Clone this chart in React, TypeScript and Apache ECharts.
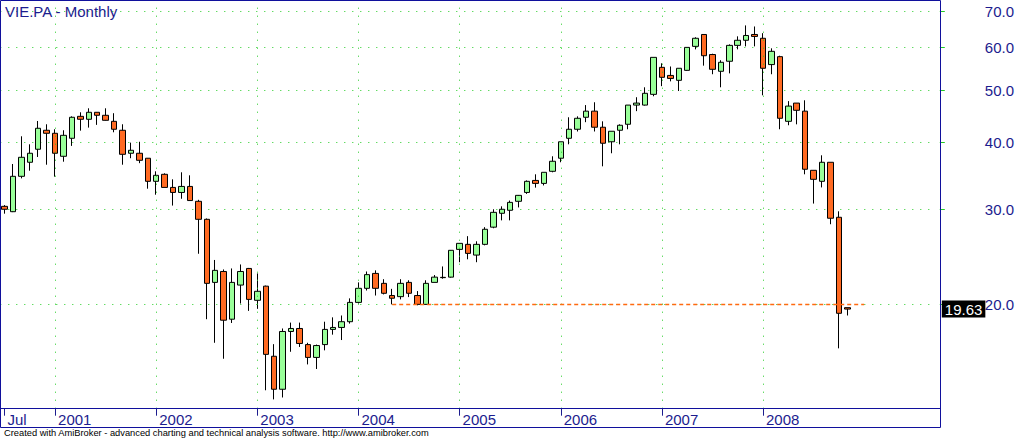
import React, { useEffect, useRef } from "react";
import * as echarts from "echarts";

// Monthly bars, Jul 2000 .. Nov 2008
const startYear = 2000;
const startMonth = 7;
const slotCount = 111; // visible month slots on the axis

const opens = [
  30.44, 29.75, 34.6, 36.74, 38.84, 42.12, 41.58, 37.69, 40.7, 44.7,
  44.14, 45.48, 44.9, 43.76, 42.12, 38.18, 38.18, 37.38, 33.87, 34.9,
  33.0, 32.3, 33.14, 31.1, 28.8, 22.0, 23.05, 18.8, 21.75, 23.35,
  20.38, 21.65, 16.05, 13.94, 17.84, 18.07, 16.87, 15.97, 16.87, 18.0,
  18.15, 18.6, 20.2, 21.45, 22.86, 21.91, 20.8, 20.7, 22.0, 20.8,
  20.03, 22.0, 22.48, 22.5, 25.33, 25.88, 24.72, 25.88, 27.85, 29.55,
  29.93, 31.1, 32.3, 34.0, 33.57, 35.35, 37.38, 40.7, 42.3, 44.52,
  45.7, 42.67, 40.1, 42.12, 43.21, 46.9, 46.9, 49.1, 55.1, 53.23,
  52.13, 54.4, 60.26, 63.4, 58.2, 54.18, 56.55, 60.52, 61.85, 63.4,
  62.38, 55.75, 57.67, 43.76, 47.3, 45.7, 35.5, 33.87, 36.74, 29.05,
  19.75,
];
const closes = [
  30.06, 34.6, 37.53, 38.18, 42.48, 41.58, 38.18, 41.22, 44.52, 44.14,
  45.48, 44.9, 43.95, 42.3, 38.01, 38.67, 37.05, 33.87, 34.75, 33.0,
  32.3, 33.14, 31.2, 28.8, 21.91, 23.16, 18.72, 22.0, 23.05, 20.46,
  21.18, 16.18, 13.94, 17.84, 18.07, 16.95, 15.97, 16.8, 18.0, 18.15,
  18.6, 20.2, 21.45, 22.74, 21.45, 21.0, 20.56, 21.91, 21.0, 20.03,
  21.91, 22.5, 22.45, 25.23, 25.99, 24.9, 25.88, 27.6, 29.67, 30.06,
  30.96, 31.9, 33.87, 33.57, 35.2, 36.9, 40.1, 42.3, 44.33, 45.7,
  42.67, 39.85, 41.94, 43.03, 46.9, 47.3, 49.32, 57.5, 52.8, 52.55,
  54.88, 60.0, 62.38, 57.9, 54.64, 56.3, 60.52, 61.85, 63.13, 62.87,
  54.88, 59.0, 44.33, 46.7, 45.87, 35.66, 34.16, 36.74, 28.93, 19.28,
  19.63,
];
const lows = [
  29.5, 29.7, 34.3, 35.44, 37.58, 36.36, 34.55, 36.83, 39.4, 42.05,
  42.6, 43.1, 43.9, 41.76, 36.36, 37.38, 36.6, 32.82, 31.99, 33.0,
  30.54, 31.44, 31.2, 24.86, 18.8, 17.0, 15.88, 18.5, 20.1, 19.48,
  19.65, 13.88, 13.35, 13.46, 16.36, 16.7, 15.5, 15.2, 16.46, 17.6,
  17.2, 18.45, 20.1, 21.25, 20.8, 20.9, 20.03, 20.46, 20.66, 19.95,
  20.0, 22.0, 22.35, 22.45, 23.98, 24.28, 23.98, 25.77, 27.72, 28.67,
  28.67, 30.3, 32.1, 32.97, 33.28, 35.2, 36.74, 39.67, 41.9, 43.6,
  41.9, 36.11, 38.18, 39.67, 42.3, 45.7, 46.8, 48.7, 50.85, 51.9,
  49.8, 54.3, 59.5, 55.5, 53.5, 50.6, 53.7, 59.5, 60.26, 60.26,
  48.9, 53.5, 42.3, 43.03, 43.2, 34.9, 30.8, 33.0, 28.2, 16.6,
  19.1,
];
const highs = [
  30.6, 36.47, 41.05, 39.67, 43.82, 43.21, 42.3, 42.12, 44.7, 45.48,
  46.26, 45.5, 46.26, 45.3, 43.21, 39.95, 40.1, 37.4, 35.35, 35.05,
  34.16, 35.2, 34.75, 31.3, 28.9, 24.21, 23.25, 23.35, 23.75, 23.4,
  22.86, 21.7, 16.9, 18.07, 18.53, 18.53, 17.0, 16.87, 18.6, 18.95,
  19.1, 20.55, 22.0, 23.05, 23.16, 22.3, 21.4, 22.3, 22.2, 21.2,
  22.2, 22.7, 23.55, 25.25, 26.0, 26.8, 26.22, 27.85, 30.06, 30.44,
  31.2, 31.95, 34.0, 34.9, 35.2, 37.69, 40.1, 44.52, 44.7, 46.9,
  47.47, 43.76, 41.95, 43.2, 46.9, 48.5, 50.6, 57.5, 56.06, 55.3,
  54.9, 60.0, 62.65, 63.4, 58.4, 56.8, 60.78, 62.9, 65.9, 65.6,
  63.75, 59.76, 57.9, 47.7, 47.3, 47.87, 35.5, 37.85, 36.74, 29.8,
  19.75,
];

const priceTicks = [20, 30, 40, 50, 60, 70];
const axisMinPrice = 12.83;
const axisMaxPrice = 73.14;
const supportLevel = 20.0;
const supportFrom = "2004-05";
const supportTo = "2009-01";
const titleText = "VIE.PA - Monthly";
const footerText =
  "Created with AmiBroker - advanced charting and technical analysis software. http://www.amibroker.com";

const NAVY = "#1c1c8e";
const FRAME = "#10109c";
const GRID_GREEN = "#22cc22";
const UP = "#99ff99";
const DOWN = "#ff6a22";
const FONT = "'Liberation Sans', Arial, sans-serif";

function buildCategories(): string[] {
  const out: string[] = [];
  for (let i = 0; i < slotCount; i++) {
    const m0 = startMonth - 1 + i;
    const y = startYear + Math.floor(m0 / 12);
    const m = (m0 % 12) + 1;
    out.push(`${y}-${m < 10 ? "0" + m : m}`);
  }
  return out;
}

export default function App() {
  const ref = useRef<HTMLDivElement>(null);
  useEffect(() => {
    if (!ref.current) return;
    const chart = echarts.init(ref.current, undefined, { renderer: "svg" });
    const categories = buildCategories();
    const isMarked = (i: number) =>
      i < opens.length && (i === 0 || categories[i].endsWith("-01"));
    const yearCats = categories.filter((c, i) => i > 0 && i < opens.length && c.endsWith("-01"));
    const candles = opens.map((o, i) => [
      Math.log(o),
      Math.log(closes[i]),
      Math.log(lows[i]),
      Math.log(highs[i]),
    ]);
    const lastClose = closes[closes.length - 1];
    const yMin = Math.log(axisMinPrice);
    const yMax = Math.log(axisMaxPrice);
    const tickVals = priceTicks.map((p) => Math.log(p));

    chart.setOption({
      animation: false,
      grid: { left: 0.3, top: 1, width: 935.8, height: 407.7, show: false },
      xAxis: {
        type: "category",
        data: categories,
        boundaryGap: true,
        axisLine: { show: false },
        axisTick: {
          show: true,
          alignWithLabel: true,
          interval: (i: number) => isMarked(i),
          length: 7,
          lineStyle: { color: NAVY, width: 1 },
        },
        axisLabel: {
          show: true,
          interval: (i: number) => isMarked(i),
          formatter: (v: string, i: number) => (i === 0 ? "Jul" : v.slice(0, 4)),
          align: "left",
          padding: [0, 0, 0, 3],
          margin: 3,
          color: NAVY,
          fontSize: 15,
          fontFamily: FONT,
        },
        splitLine: { show: false },
      },
      yAxis: [
        {
          type: "value",
          position: "right",
          min: yMin,
          max: yMax,
          offset: 4,
          axisLine: { show: false },
          axisTick: {
            show: true,
            customValues: tickVals,
            length: 5,
            lineStyle: { color: GRID_GREEN, width: 1 },
          },
          axisLabel: {
            show: true,
            customValues: tickVals,
            formatter: (v: number) => Math.exp(v).toFixed(1),
            margin: 45,
            color: NAVY,
            fontSize: 15,
            fontFamily: FONT,
          },
          splitLine: {
            show: true,
            lineStyle: { color: GRID_GREEN, type: [1, 7], width: 1 },
          },
        },
        {
          type: "value",
          position: "right",
          min: yMin,
          max: yMax,
          offset: 4,
          axisLine: { show: false },
          axisTick: { show: false },
          splitLine: { show: false },
          axisLabel: {
            show: true,
            customValues: [Math.log(lastClose)],
            formatter: (v: number) => Math.exp(v).toFixed(2),
            margin: 2,
            color: "#ffffff",
            backgroundColor: "#000000",
            padding: [1, 3, 1, 3],
            fontSize: 15,
            lineHeight: 15,
            fontFamily: FONT,
          },
        },
      ],
      series: [
        {
          type: "candlestick",
          xAxisIndex: 0,
          yAxisIndex: 0,
          data: candles,
          barWidth: 6,
          itemStyle: {
            color: UP,
            color0: DOWN,
            borderColor: "#000000",
            borderColor0: "#000000",
            borderWidth: 1,
          },
          markLine: {
            silent: true,
            symbol: "none",
            label: { show: false },
            animation: false,
            data: [
              ...yearCats.map((c) => ({
                xAxis: c,
                lineStyle: { color: GRID_GREEN, type: [1, 7], width: 1 },
              })),
              [
                {
                  xAxis: supportFrom,
                  yAxis: Math.log(supportLevel),
                  lineStyle: { color: "#ff6a10", type: [4, 3], width: 1.3 },
                },
                { xAxis: supportTo, yAxis: Math.log(supportLevel) },
              ],
            ],
          },
        },
      ],
      graphic: [
        {
          type: "rect",
          shape: { x: 0.5, y: 0.5, width: 940, height: 427 },
          style: { fill: "none", stroke: FRAME, lineWidth: 1 },
          z: 100,
        },
        {
          type: "line",
          shape: { x1: 0.5, y1: 408.5, x2: 940.5, y2: 408.5 },
          style: { stroke: FRAME, lineWidth: 1 },
          z: 100,
        },
        {
          type: "text",
          x: 5,
          y: 11,
          style: {
            text: titleText,
            fill: NAVY,
            font: `15px ${FONT}`,
            verticalAlign: "middle",
          },
          z: 100,
        },
        {
          type: "text",
          x: 4,
          y: 433,
          style: {
            text: footerText,
            fill: "#000000",
            font: `9.3px ${FONT}`,
            verticalAlign: "middle",
          },
          z: 100,
        },
      ],
    });
    return () => chart.dispose();
  }, []);
  return (
    <div
      ref={ref}
      style={{ position: "absolute", left: 0, top: 0, width: 1017, height: 439, background: "#fff" }}
    />
  );
}
